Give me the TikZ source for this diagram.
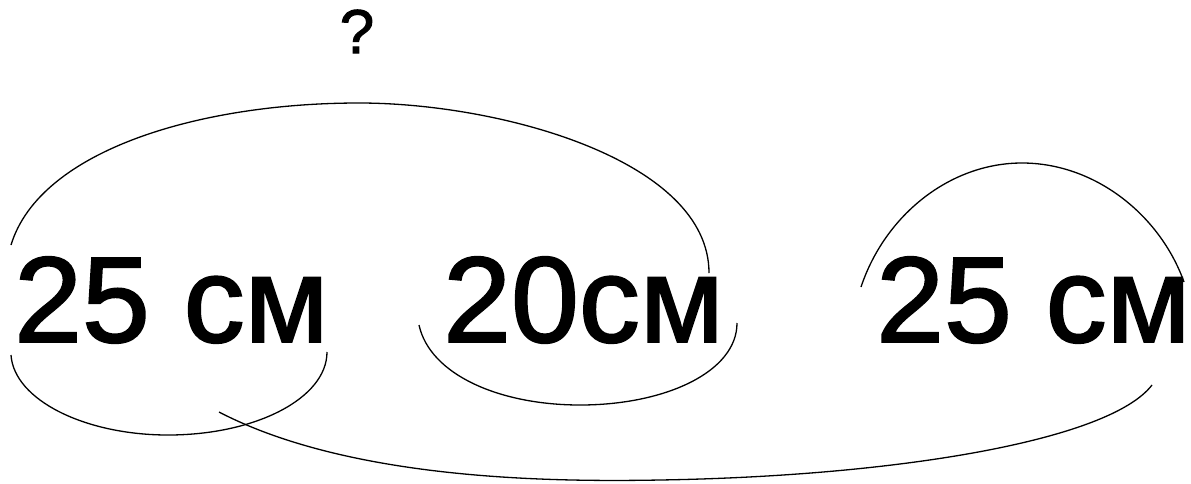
\documentclass[tikz,border=0pt]{standalone}
\usepackage{fontspec}
\setmainfont{Liberation Sans}
\newfontfamily\heavyfont{Liberation Sans}[FakeBold=1.6]
\begin{document}
\begin{tikzpicture}[x=1pt,y=-1pt,
  big/.style={font=\heavyfont\fontsize{122}{122}\selectfont, inner sep=0pt, anchor=base west},
  small/.style={font=\heavyfont\fontsize{62}{62}\selectfont, inner sep=0pt, anchor=base},
  arcline/.style={draw=black, line width=1.3pt}]
\useasboundingbox (0,0) rectangle (1191,483);
\node[big] (t1) at (14,342) {25 см};
\node[big] (t2) at (443,342) {20см};
\node[big] (t3) at (876,342) {25 см};
\node[small] (q) at (357,53) {?};
% top arc over 25 cm and 20cm
\path[arcline] (11,245) .. controls (40,150) and (200,103) .. (359,103)
  .. controls (500,103) and (709,160) .. (709,273);
% under first 25 cm
\path[arcline] (11,355) .. controls (14,400) and (85,435) .. (168,435)
  .. controls (256,435) and (327,398) .. (327,352);
% under 20cm
\path[arcline] (419,325) .. controls (430,375) and (500,405) .. (580,405)
  .. controls (665,405) and (737,372) .. (737,323);
% over last 25 cm
\path[arcline] (861,287) .. controls (885,215) and (950,163) .. (1022,163)
  .. controls (1095,163) and (1160,215) .. (1184,282);
% long bottom arc
\path[arcline] (219,412) .. controls (350,480) and (550,482) .. (660,480)
  .. controls (900,476) and (1110,440) .. (1152,385);
\end{tikzpicture}
\end{document}
